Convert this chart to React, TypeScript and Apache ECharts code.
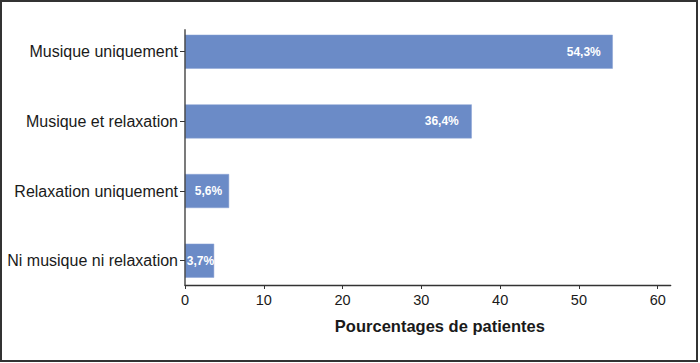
import React, { useEffect, useRef } from "react";
import * as echarts from "echarts";

const categories = [
  "Musique uniquement",
  "Musique et relaxation",
  "Relaxation uniquement",
  "Ni musique ni relaxation",
];
const values = [54.3, 36.4, 5.6, 3.7];
const valueLabels = ["54,3%", "36,4%", "5,6%", "3,7%"];
const labelDistances = [12, 13, 7, 0];
const xTicks = [0, 10, 20, 30, 40, 50, 60];

export default function App() {
  const ref = useRef<HTMLDivElement>(null);
  useEffect(() => {
    document.body.style.margin = "0";
    if (!ref.current) return;
    const chart = echarts.init(ref.current, undefined, { renderer: "svg" });
    const font = "Liberation Sans, Arial, Helvetica, sans-serif";
    chart.setOption({
      animation: false,
      grid: { left: 185, right: 29.3, top: 16.9, bottom: 67.5, containLabel: false },
      xAxis: {
        type: "value",
        min: 0,
        max: 61.65,
        offset: -10.5,
        name: "Pourcentages de patientes",
        nameLocation: "middle",
        nameGap: 32,
        nameTextStyle: { fontFamily: font, fontSize: 16.5, fontWeight: "bold", color: "#1a1a1a", padding: [0, 0, 0, 24] },
        axisLine: { show: true, lineStyle: { color: "#333", width: 1.3 } },
        axisTick: { show: true, length: 4, customValues: xTicks, lineStyle: { color: "#333" } },
        axisLabel: { customValues: xTicks, fontFamily: font, fontSize: 14.5, color: "#1a1a1a", margin: 7 },
        splitLine: { show: false },
      },
      yAxis: {
        type: "category",
        data: categories,
        inverse: true,
        axisLine: { show: false },
        axisTick: { show: true, length: 5, alignWithLabel: true, lineStyle: { color: "#333" } },
        axisLabel: { fontFamily: font, fontSize: 16, color: "#1a1a1a", margin: 7 },
      },
      graphic: [
        {
          type: "rect",
          shape: { x: 1, y: 1, width: 696, height: 360 },
          style: { fill: "none", stroke: "#333", lineWidth: 2 },
          silent: true,
        },
        {
          type: "line",
          shape: { x1: 185, y1: 29.3, x2: 185, y2: 285.5 },
          style: { stroke: "#333", lineWidth: 1.3 },
          silent: true,
          z: 10,
        },
      ],
      series: [
        {
          type: "bar",
          barWidth: 34,
          data: values.map((v, i) => ({
            value: v,
            label: {
              show: true,
              position: "insideRight",
              distance: labelDistances[i],
              formatter: valueLabels[i],
              color: "#fff",
              fontFamily: font,
              fontSize: 12,
              fontWeight: "bold",
            },
          })),
          itemStyle: { color: "#6b8bc7", borderColor: "#8aa3d4", borderWidth: 0.5 },
        },
      ],
    });
    return () => chart.dispose();
  }, []);
  return <div ref={ref} style={{ width: 700, height: 363 }} />;
}
